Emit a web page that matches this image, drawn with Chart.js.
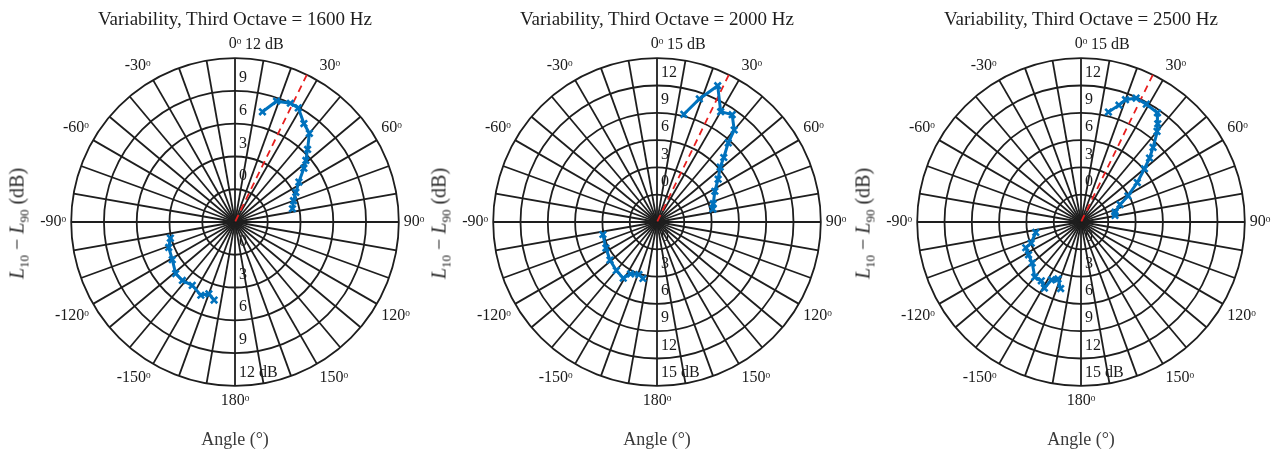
<!DOCTYPE html>
<html lang="en">
<head>
  <meta charset="UTF-8">
  <title>Variability polar plots</title>
  <script src="https://cdn.jsdelivr.net/npm/chart.js"></script>
  <style>
    html, body { margin: 0; padding: 0; background: #fff; overflow: hidden; }
    #wrap { position: relative; width: 1281px; height: 452px; overflow: hidden; background: #fff;
            font-family: "Liberation Serif", serif; }
    canvas { position: absolute; top: 0; }
    .title { position: absolute; top: 8px; width: 440px; text-align: center; font-size: 19px; color: #1e1e1e; white-space: nowrap; }
    .xlab { position: absolute; top: 429px; width: 200px; text-align: center; font-size: 18px; color: #3a3a3a; }
    .ylab { position: absolute; top: 210px; width: 240px; text-align: center; font-size: 20px; color: #262626;
            transform: rotate(-90deg); white-space: nowrap; }
    .ylab sub { font-size: 13px; }
  </style>
</head>
<body>
<div id="wrap">
  <canvas id="c1600" width="480" height="452"></canvas>
  <canvas id="c2000" width="480" height="452"></canvas>
  <canvas id="c2500" width="480" height="452"></canvas>
</div>

<script>
  // radial axis
  const R_MIN = -3;
  const R_STEP = 3;
  const REF_ANGLE = 26;   // red dashed reference direction (deg)

  // 1600 Hz
  const up1600Ang = [14, 19, 25, 29, 35, 40, 45, 49, 52, 58, 64, 70, 77];
  const up1600Val = [7.4, 8.7, 9.0, 8.95, 8.0, 7.6, 6.4, 5.6, 5.0, 3.9, 3.2, 2.7, 2.4];
  const lo1600Ang = [-104, -111, -121, -131, -138, -146, -155, -160, -165];
  const lo1600Val = [3.1, 3.5, 3.7, 4.2, 4.2, 4.0, 4.4, 4.0, 4.4];

  // 2000 Hz
  const up2000Ang = [14, 19, 24, 30, 35, 40, 42, 46, 49, 55, 62, 72, 77];
  const up2000Val = [9.2, 11.3, 13.4, 11.0, 11.4, 10.2, 8.7, 7.2, 6.2, 5.2, 4.2, 3.5, 3.3];
  const lo2000Ang = [-103, -117, -129, -140, -149, -153, -161, -166];
  const lo2000Val = [3.1, 3.3, 3.65, 3.95, 4.2, 3.4, 3.1, 3.4];

  // 2500 Hz
  const up2500Ang = [14, 18, 20, 24, 29, 35, 38, 40, 44, 47, 50, 55, 61, 66, 74, 79];
  const up2500Val = [9.45, 10.5, 11.3, 11.9, 11.8, 11.65, 10.7, 10.0, 8.4, 7.3, 6.1, 4.55, 2.9, 1.7, 0.9, 0.8];
  const lo2500Ang = [-103, -113, -115, -122, -130, -140, -146, -151, -153, -158, -163];
  const lo2500Val = [2.1, 2.95, 3.7, 3.8, 4.0, 4.9, 4.8, 5.3, 4.15, 3.75, 4.65];

  // one category per degree, shown every 30 deg
  const angleLabels = [];
  for (let a = 0; a < 360; a++) angleLabels.push((a <= 180 ? a : a - 360) + 'ᵒ');

  const plots = [
    { id: 'c1600', cx: 235, hz: 1600, rMax: 12, up: [up1600Ang, up1600Val], lo: [lo1600Ang, lo1600Val] },
    { id: 'c2000', cx: 657, hz: 2000, rMax: 15, up: [up2000Ang, up2000Val], lo: [lo2000Ang, lo2000Val] },
    { id: 'c2500', cx: 1081, hz: 2500, rMax: 15, up: [up2500Ang, up2500Val], lo: [lo2500Ang, lo2500Val] }
  ];

  const BLUE = '#0072BD';
  const GRID = '#1e1e1e';
  const FONT = '"Liberation Serif", serif';

  function toRadar(angles, values) {
    const d = new Array(360).fill(null);
    angles.forEach((a, i) => { d[(a + 360) % 360] = values[i]; });
    return d;
  }

  // radar lines are closed loops by default; these traces are open
  const openLines = {
    id: 'openLines',
    afterDatasetsUpdate(chart) {
      chart.getSortedVisibleDatasetMetas().forEach(m => {
        m.dataset._loop = false;
        m.dataset._fullLoop = false;
        m.dataset._segments = undefined;
        m.dataset._path = undefined;
      });
    }
  };

  // dB labels along the 0/180 axis, both directions
  const dbLabels = {
    id: 'dbLabels',
    beforeDraw(chart) {
      const s = chart.scales.r, ctx = chart.ctx;
      ctx.save();
      ctx.font = '16px ' + FONT;
      ctx.fillStyle = '#1a1a1a';
      ctx.textAlign = 'left';
      ctx.textBaseline = 'middle';
      s.ticks.forEach(t => {
        if (t.value < 0) return;
        const d = s.getDistanceFromCenterForValue(t.value);
        const isMax = t.value === s.max;
        const txt = isMax ? t.value + ' dB' : String(t.value);
        ctx.fillText(txt, s.xCenter + (isMax ? 10 : 4), s.yCenter - d - 13);
        ctx.fillText(txt, s.xCenter + 4, s.yCenter + d - 13);
      });
      ctx.restore();
    }
  };

  const wrap = document.getElementById('wrap');

  plots.forEach(p => {
    const cv = document.getElementById(p.id);
    cv.style.left = (p.cx - 240) + 'px';

    const t = document.createElement('div');
    t.className = 'title';
    t.style.left = (p.cx - 220) + 'px';
    t.textContent = 'Variability, Third Octave = ' + p.hz + ' Hz';
    wrap.appendChild(t);

    const xl = document.createElement('div');
    xl.className = 'xlab';
    xl.style.left = (p.cx - 100) + 'px';
    xl.textContent = 'Angle (°)';
    wrap.appendChild(xl);

    const yl = document.createElement('div');
    yl.className = 'ylab';
    yl.style.left = (p.cx - 216 - 120) + 'px';
    yl.innerHTML = '<i>L</i><sub>10</sub> &minus; <i>L</i><sub>90</sub> (dB)';
    wrap.appendChild(yl);

    const refData = new Array(360).fill(null);
    refData[REF_ANGLE] = p.rMax;
    refData[REF_ANGLE + 1] = R_MIN;

    const trace = (arr) => ({
      data: toRadar(arr[0], arr[1]),
      borderColor: BLUE,
      borderWidth: 3,
      pointStyle: 'crossRot',
      pointRadius: 4.5,
      pointBorderWidth: 2.6,
      pointBorderColor: BLUE,
      pointBackgroundColor: BLUE,
      fill: false,
      spanGaps: true,
      order: 0
    });

    new Chart(cv, {
      type: 'radar',
      data: {
        labels: angleLabels,
        datasets: [
          trace(p.up),
          trace(p.lo),
          {
            data: refData,
            borderColor: 'rgb(232,30,30)',
            borderWidth: 1.8,
            borderDash: [7, 5],
            pointRadius: 0,
            fill: false,
            spanGaps: true,
            order: 1
          }
        ]
      },
      options: {
        responsive: false,
        animation: false,
        events: [],
        layout: { padding: { top: 34, bottom: 42, left: 0, right: 0 } },
        plugins: { legend: { display: false }, tooltip: { enabled: false } },
        scales: {
          r: {
            min: R_MIN,
            max: p.rMax,
            ticks: { stepSize: R_STEP, display: false },
            grid: { circular: true, color: GRID, lineWidth: 1.8 },
            angleLines: {
              color: GRID,
              lineWidth: (ctx) => (ctx.index % 10 === 0 ? 1.8 : 0)
            },
            pointLabels: {
              display: true,
              padding: 5,
              color: '#1a1a1a',
              font: { family: FONT, size: 16 },
              callback: (label, i) => (i % 30 === 0 ? label : '')
            }
          }
        }
      },
      plugins: [openLines, dbLabels]
    });
  });
</script>
</body>
</html>
